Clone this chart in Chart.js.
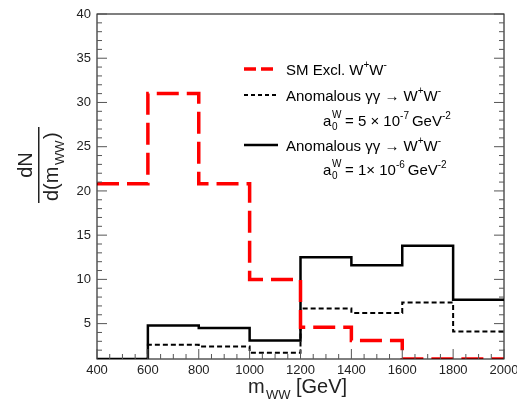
<!DOCTYPE html>
<html><head><meta charset="utf-8">
<script src="https://cdn.jsdelivr.net/npm/chart.js@4"></script>
<style>body{margin:0;background:#fff}#wrap{width:517px;height:409px}</style>
</head><body><div id="wrap"><canvas id="c"></canvas></div>
<script>
// bin edges and per-bin values (last value repeated to close the step)
const binEdges = [400, 600, 800, 1000, 1200, 1400, 1600, 1800, 2000];
const smExcl = [20.8, 31.0, 20.8, 10.0, 4.6, 3.1, 1.0, 1.0];
const anom5e7 = [1.0, 2.6, 2.4, 1.7, 6.7, 6.2, 7.4, 4.1];
const anom1e6 = [1.0, 4.8, 4.5, 3.1, 12.5, 11.6, 13.8, 7.7];
const xTicks = [400, 600, 800, 1000, 1200, 1400, 1600, 1800, 2000];
const yTicks = [5, 10, 15, 20, 25, 30, 35, 40];

function pts(vals) {
  return binEdges.map((x, i) => ({x: x, y: vals[Math.min(i, vals.length - 1)]}));
}
const F = 'Liberation Sans, Arial, sans-serif';

const decor = {
  id: 'decor',
  afterDraw(chart) {
    const ctx = chart.ctx, a = chart.chartArea;
    const xs = chart.scales.x, ys = chart.scales.y;
    ctx.save();
    ctx.strokeStyle = '#000'; ctx.lineWidth = 1;
    ctx.strokeRect(a.left, a.top, a.right - a.left, a.bottom - a.top);
    ctx.strokeStyle = '#555';
    for (let v = 400; v <= 2000; v += 50) {
      const p = xs.getPixelForValue(v), L = v % 200 === 0 ? 10 : 5;
      ctx.beginPath(); ctx.moveTo(p, a.bottom); ctx.lineTo(p, a.bottom - L); ctx.stroke();
    }
    for (let v = 2; v <= 40; v++) {
      const p = ys.getPixelForValue(v), L = v % 5 === 0 ? 10 : 5;
      ctx.beginPath(); ctx.moveTo(a.left, p); ctx.lineTo(a.left + L, p);
      ctx.moveTo(a.right, p); ctx.lineTo(a.right - L, p); ctx.stroke();
    }
    ctx.fillStyle = '#222';
    ctx.font = '13px ' + F; ctx.textAlign = 'center'; ctx.textBaseline = 'top';
    xTicks.forEach(v => ctx.fillText(v, xs.getPixelForValue(v), a.bottom + 5));
    ctx.textAlign = 'right'; ctx.textBaseline = 'middle';
    yTicks.forEach(v => ctx.fillText(v, a.left - 6, ys.getPixelForValue(v)));
    ctx.font = '20px ' + F; ctx.textAlign = 'left'; ctx.textBaseline = 'alphabetic';
    ctx.fillText('m', 248, 393);
    ctx.font = '13px ' + F; ctx.fillText('WW', 266, 399);
    ctx.font = '20px ' + F; ctx.fillText('[GeV]', 296, 393);
    ctx.translate(40, 165); ctx.rotate(-Math.PI / 2);
    ctx.textAlign = 'center'; ctx.font = '20px ' + F;
    ctx.fillText('dN', 0, -8);
    ctx.fillRect(-38, -2, 76, 1.5);
    ctx.textAlign = 'left';
    ctx.fillText('d(m', -36, 18);
    ctx.font = '13px ' + F; ctx.fillText('WW', 0, 24);
    ctx.font = '20px ' + F; ctx.fillText(')', 26, 18);
    ctx.restore();
    // legend
    ctx.save();
    ctx.fillStyle = '#000'; ctx.textBaseline = 'alphabetic'; ctx.textAlign = 'left';
    function sup(x, y, base, s) {
      ctx.font = '15px ' + F; ctx.fillText(base, x, y); x += ctx.measureText(base).width;
      ctx.font = '10px ' + F; ctx.fillText(s, x, y - 7); return x + ctx.measureText(s).width;
    }
    function seg(y, color, dash, w) {
      ctx.strokeStyle = color; ctx.lineWidth = w; ctx.setLineDash(dash);
      ctx.beginPath(); ctx.moveTo(244, y); ctx.lineTo(278, y); ctx.stroke(); ctx.setLineDash([]);
    }
    function anom(y) {
      ctx.font = '15px ' + F; const t = 'Anomalous \u03b3\u03b3 \u2192 W';
      ctx.fillText(t, 286, y);
      let x = 286 + ctx.measureText(t).width;
      x = sup(x, y, '', '+'); sup(x, y, 'W', '-');
    }
    function coup(y, base, e) {
      ctx.font = '15px ' + F; ctx.fillText('a', 323, y);
      ctx.font = '10px ' + F; ctx.fillText('W', 332, y - 8); ctx.fillText('0', 332, y + 4);
      const xx = sup(345, y, base, e);
      sup(xx + 3, y, 'GeV', '-2');
    }
    seg(69, '#f00', [12, 5], 3.5);
    const x0 = sup(286, 75, 'SM Excl. W', '+'); sup(x0, 75, 'W', '-');
    seg(95, '#000', [4, 3], 2);
    anom(101);
    coup(126, '= 5 \u00d7 10', '-7');
    seg(145, '#000', [], 2.5);
    anom(151);
    coup(175, '= 1\u00d7 10', '-6');
    ctx.restore();
  }
};

new Chart(document.getElementById('c'), {
  type: 'line',
  data: {
    datasets: [
      {data: pts(smExcl), borderColor: '#ff0000', borderWidth: 3.5, borderDash: [22, 8], stepped: 'before', pointRadius: 0, fill: false},
      {data: pts(anom5e7), borderColor: '#000', borderWidth: 2, borderDash: [5, 3], stepped: 'before', pointRadius: 0, fill: false},
      {data: pts(anom1e6), borderColor: '#000', borderWidth: 2.5, stepped: 'before', pointRadius: 0, fill: false}
    ]
  },
  options: {
    responsive: true, maintainAspectRatio: false, animation: false,
    layout: {padding: {left: 97, right: 13, top: 14, bottom: 50}},
    plugins: {legend: {display: false}, tooltip: {enabled: false}},
    scales: {
      x: {type: 'linear', min: 400, max: 2000, display: false},
      y: {min: 1, max: 40, display: false}
    }
  },
  plugins: [decor]
});
</script></body></html>
